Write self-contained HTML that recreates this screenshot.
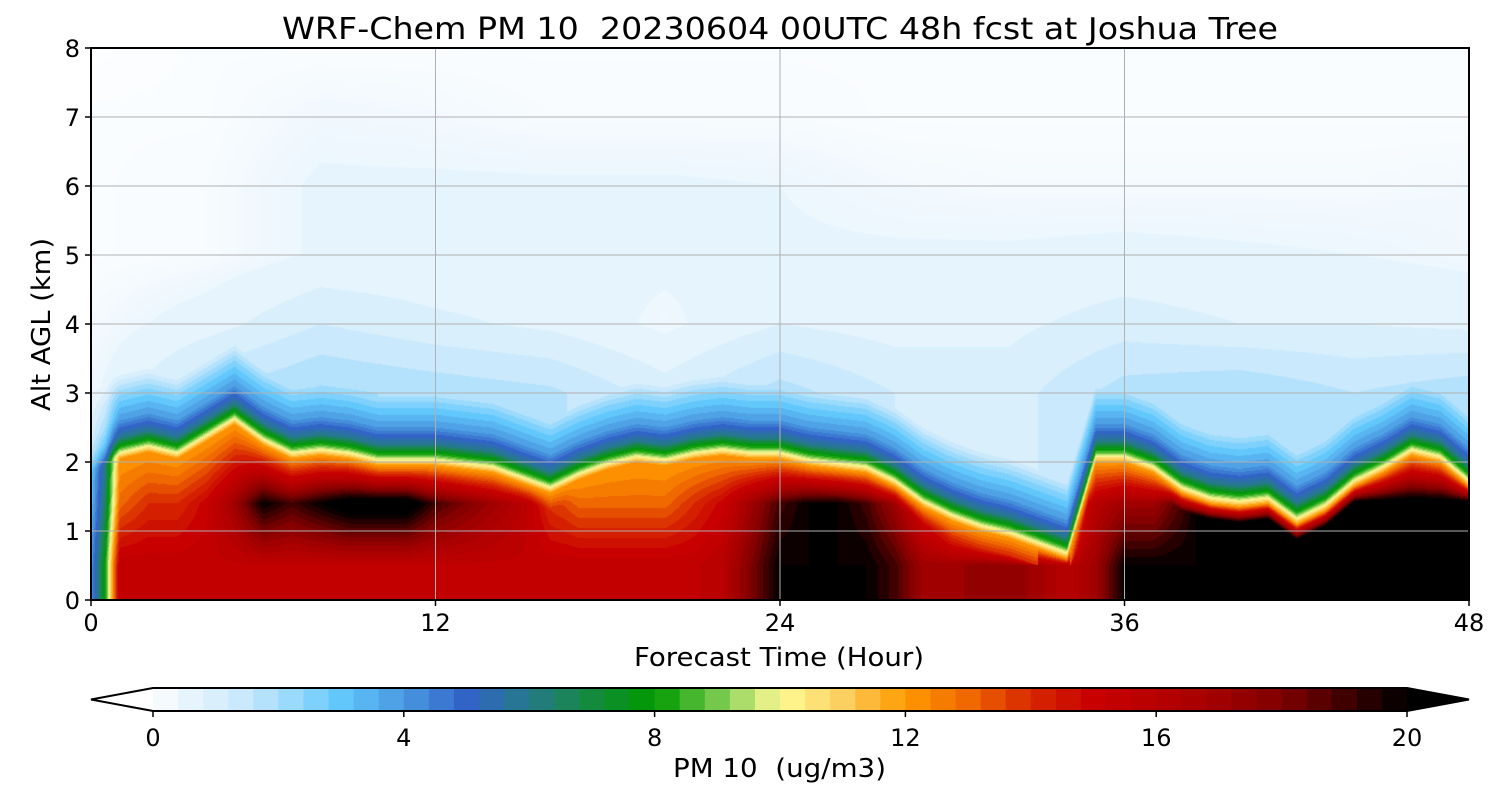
<!DOCTYPE html>
<html><head><meta charset="utf-8"><style>
body{margin:0;background:#fff;width:1500px;height:800px;overflow:hidden;font-family:"DejaVu Sans",sans-serif}
#wrap{position:relative;width:1500px;height:800px}
canvas{position:absolute;left:91px;top:48px}
svg{position:absolute;left:0;top:0}
text{white-space:pre}
</style></head><body>
<div id="wrap">
<canvas id="cv" width="1378" height="552"></canvas>
<svg id="sv" width="1500" height="800"></svg>
</div>
<script>
// ---- data ----
const times = [0,0.5,0.8,1,2,3,4,5,6,7,8,9,10,11,12,13,14,15,16,17,18,19,20,21,22,23,24,25,26,27,28,29,30,31,32,33,34,35,36,37,38,39,40,41,42,43,44,45,46,47,48];
const topKm = [2.0,2.1,2.2,2.2,2.3,2.2,2.45,2.7,2.4,2.2,2.25,2.2,2.1,2.1,2.1,2.05,2.0,1.85,1.7,1.9,2.05,2.15,2.1,2.2,2.25,2.2,2.2,2.1,2.05,2.0,1.8,1.5,1.3,1.15,1.05,0.9,0.75,2.15,2.15,2.0,1.7,1.55,1.5,1.55,1.25,1.45,1.8,2.0,2.25,2.15,1.8];
const lowVal = [16,16,16,15.5,15.5,15.5,15.5,15.5,15.5,15.5,15.5,15.5,15.5,15.5,15.5,15.5,15.5,15.5,15.5,15.5,15.5,15.5,15.5,15.5,16,18,20,20,20,20,19,17,17,17.5,17.5,17,16,17,20,20,20,20,20,20,20,20,20,20,20,20,20];
const coreVal = [13,13,13,13,14,14,15,17,20,19,20,21,21,21,19,18,17,16,14,13,13,13,13,14,15,17,19,20,20,19,17,15,14,14,14,14,13,16,17,17,19,21,21,21,21,21,21,21,21,21,21];
const strength = [0.25,0.5,0.8,1,1,1,1,1,1,1,1,1,1,1,1,1,1,1,1,1,1,1,1,1,1,1,1,1,1,1,1,1,1,1,1,1,1,1,1,1,1,1,1,1,1,1,1,1,1,1,1];
const aloftTimes = [0,4,8,12,16,20,24,28,32,36,40,44,48];
const aloftLevels = [3,4,5,6,7,8];
const aloft3 = [0.3,1.6,2.1,1.9,1.7,1.0,1.8,1.2,1.0,1.8,2.0,1.6,1.9];
const aloft4 = [0.2,0.6,1.2,0.9,0.7,0.3,0.8,0.6,0.7,1.0,0.8,0.8,0.7];
const aloft5 = [0.1,0.15,0.45,0.45,0.5,0.5,0.45,0.45,0.45,0.5,0.45,0.4,0.3];
const aloft6 = [0.1,0.15,0.45,0.45,0.45,0.45,0.4,0.25,0.2,0.2,0.2,0.2,0.25];
const aloft7 = [0.1,0.1,0.3,0.25,0.15,0.15,0.15,0.1,0.1,0.1,0.1,0.1,0.1];
const aloft8 = [0.05,0.1,0.1,0.1,0.1,0.1,0.1,0.1,0.1,0.1,0.1,0.1,0.1];
const xTicks = [0,12,24,36,48];
const yTicks = [0,1,2,3,4,5,6,7,8];
const cbTicks = [0,4,8,12,16,20];
const cmapStops = [[0,'#ffffff'],[0.3,'#f0f8fe'],[0.8,'#e0f2fc'],[1.5,'#c6e8fc'],[2,'#a8defc'],[3,'#62c8fc'],[4,'#4a98e0'],[5,'#3264c8'],[6,'#267a8a'],[7,'#138a3c'],[8,'#009a00'],[9,'#74c84c'],[10,'#fffa96'],[11,'#fcd060'],[12,'#ff9a00'],[13,'#f06800'],[14,'#d82800'],[15,'#c80000'],[16,'#b80000'],[17,'#a00000'],[18,'#800000'],[19,'#400000'],[20,'#000000']];

// ---- axes ----
const X0=91,X1=1469,Y0=600,Y1=48,TMAX=48,ZMAX=8;
const xs=t=>X0+t*(X1-X0)/TMAX;
const ys=z=>Y0-z*(Y0-Y1)/ZMAX;
const CB0=153,CB1=1407,CBMAX=20;
const cbx=v=>CB0+v*(CB1-CB0)/CBMAX;

function hex(c){return [parseInt(c.slice(1,3),16),parseInt(c.slice(3,5),16),parseInt(c.slice(5,7),16)];}
function cmap(v){
  if(v<=0)return hex(cmapStops[0][1]);
  if(v>=20)return [0,0,0];
  for(let i=0;i<cmapStops.length-1;i++){
    const a=cmapStops[i],b=cmapStops[i+1];
    if(v>=a[0]&&v<=b[0]){const f=(v-a[0])/(b[0]-a[0]);const ca=hex(a[1]),cb=hex(b[1]);
      return ca.map((x,k)=>Math.round(x+(cb[k]-x)*f));}
  }
  return [0,0,0];
}
const STEP=0.4,NB=50;
const lut=[];for(let b=0;b<NB;b++)lut.push(cmap((b+0.5)*STEP));
function binColor(v){let b=Math.floor(v/STEP);if(b<0)b=0;if(b>=NB)return [0,0,0];if(b===0)return cmap(Math.max(v,0.05));return lut[b];}

function interpArr(tt,arr,t){
  if(t<=tt[0])return arr[0];
  for(let i=0;i<tt.length-1;i++){if(t<=tt[i+1]){const f=(t-tt[i])/(tt[i+1]-tt[i]);return arr[i]+(arr[i+1]-arr[i])*f;}}
  return arr[arr.length-1];
}
function lerpPts(pts,z){
  if(z<=pts[0][0])return pts[0][1];
  for(let i=0;i<pts.length-1;i++){if(z<=pts[i+1][0]){const d=pts[i+1][0]-pts[i][0];const f=d>0?(z-pts[i][0])/d:1;return pts[i][1]+(pts[i+1][1]-pts[i][1])*f;}}
  return pts[pts.length-1][1];
}
const aloftSeries=[aloft3,aloft4,aloft5,aloft6,aloft7,aloft8];

const cv=document.getElementById('cv');const ctx=cv.getContext('2d');
const W=cv.width,H=cv.height;const img=ctx.createImageData(W,H);
for(let px=0;px<W;px++){
  const t=(px+0.5)*TMAX/W;
  const T=interpArr(times,topKm,t),lo=interpArr(times,lowVal,t),co=interpArr(times,coreVal,t),s=interpArr(times,strength,t);
  const al=aloftSeries.map(a=>interpArr(aloftTimes,a,t));
  const alPts=aloftLevels.map((z,i)=>[z,al[i]]);
  let below=[[0,lo],[0.5,lo]];
  const zc=Math.min(1.4,T-0.4);
  if(zc>0.5)below.push([zc,co]);
  const ze=Math.max(T-0.15,below[below.length-1][0]+0.01);
  below.push([ze,12]);below.push([Math.max(T,ze+0.01),8.5]);
  const trans=[[T,8.5],[T+0.15,6],[T+0.4,4],[T+0.75,2.5],[T+1.2,0]];
  for(let py=0;py<H;py++){
    const z=(H-py-0.5)*ZMAX/H;
    let own=z<=T?lerpPts(below,z):lerpPts(trans,z);
    own*=s;
    const v=Math.max(own,lerpPts(alPts,z));
    const c=binColor(v);const k=(py*W+px)*4;
    img.data[k]=c[0];img.data[k+1]=c[1];img.data[k+2]=c[2];img.data[k+3]=255;
  }
}
ctx.putImageData(img,0,0);

// ---- overlay ----
const sv=document.getElementById('sv');const NS='http://www.w3.org/2000/svg';
const FF='DejaVu Sans, sans-serif';
function mk(tag,attrs,name,txt){const e=document.createElementNS(NS,tag);for(const k in attrs)e.setAttribute(k,attrs[k]);
  
  
  if(txt!==undefined)e.textContent=txt;sv.appendChild(e);return e;}
xTicks.forEach(t=>{if(t>0&&t<TMAX)mk('line',{x1:xs(t),x2:xs(t),y1:Y1,y2:Y0,stroke:'#b0b0b0','stroke-width':1},'x-gridline');});
yTicks.forEach(z=>{if(z>0&&z<ZMAX)mk('line',{x1:X0,x2:X1,y1:ys(z),y2:ys(z),stroke:'#b0b0b0','stroke-width':1},'y-gridline');});
mk('rect',{x:X0,y:Y1,width:X1-X0,height:Y0-Y1,fill:'none',stroke:'#000','stroke-width':2},'plot-frame');
xTicks.forEach(t=>{mk('line',{x1:xs(t),x2:xs(t),y1:Y0,y2:Y0+6,stroke:'#000','stroke-width':1.5},'x-tick');
  mk('text',{x:xs(t),y:Y0+31,'text-anchor':'middle','font-size':24,'font-family':FF},'x-tick-label',String(t));});
yTicks.forEach(z=>{mk('line',{x1:X0-6,x2:X0,y1:ys(z),y2:ys(z),stroke:'#000','stroke-width':1.5},'y-tick');
  mk('text',{x:X0-11,y:ys(z)+9,'text-anchor':'end','font-size':24,'font-family':FF},'y-tick-label',String(z));});
mk('text',{x:282,y:39,'font-size':30,'font-family':FF,textLength:996,lengthAdjust:'spacingAndGlyphs'},'chart-title','WRF-Chem PM 10  20230604 00UTC 48h fcst at Joshua Tree');
mk('text',{x:634,y:666,'font-size':26,'font-family':FF,textLength:290,lengthAdjust:'spacingAndGlyphs'},'x-axis-title','Forecast Time (Hour)');
mk('text',{x:0,y:0,'font-size':26,'font-family':FF,textLength:173,lengthAdjust:'spacingAndGlyphs',transform:'translate(50,411) rotate(-90)'},'y-axis-title','Alt AGL (km)');
// colorbar
const CBY=688,CBH=23;
for(let b=0;b<NB;b++){const c=lut[b];
  mk('rect',{x:cbx(b*STEP),y:CBY,width:cbx(STEP)-cbx(0)+0.6,height:CBH,fill:'rgb('+c.join(',')+')'},'colorbar-bin');}
mk('polygon',{points:`${CB0},${CBY} 91,${CBY+CBH/2} ${CB0},${CBY+CBH}`,fill:'#fff',stroke:'none'},'colorbar-under-triangle');
mk('polygon',{points:`${CB1},${CBY} 1469,${CBY+CBH/2} ${CB1},${CBY+CBH}`,fill:'#000'},'colorbar-over-triangle');
mk('polygon',{points:`${CB0},${CBY} ${CB1},${CBY} 1469,${CBY+CBH/2} ${CB1},${CBY+CBH} ${CB0},${CBY+CBH} 91,${CBY+CBH/2}`,fill:'none',stroke:'#000','stroke-width':2},'colorbar-outline');
cbTicks.forEach(v=>{mk('line',{x1:cbx(v),x2:cbx(v),y1:CBY+CBH,y2:CBY+CBH+6,stroke:'#000','stroke-width':1.5},'colorbar-tick');
  mk('text',{x:cbx(v),y:CBY+CBH+35,'text-anchor':'middle','font-size':24,'font-family':FF},'colorbar-tick-label',String(v));});
mk('text',{x:673,y:777,'font-size':26,'font-family':FF,textLength:213,lengthAdjust:'spacingAndGlyphs'},'colorbar-title','PM 10  (ug/m3)');
</script>
</body></html>
